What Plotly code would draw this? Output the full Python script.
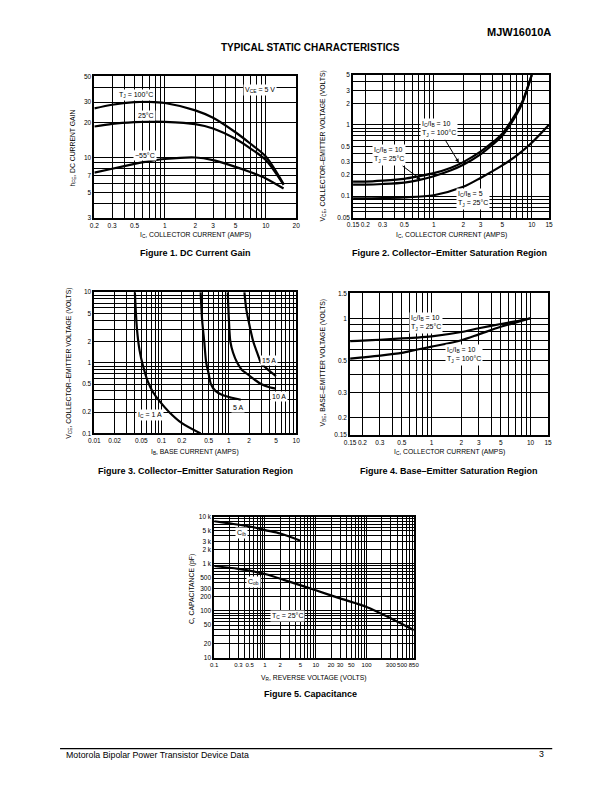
import numpy as np
import plotly.graph_objects as go

# The page body keeps its default 8 px margin, so the figure is drawn 8 px in
# from the window edge; page coordinates below are converted accordingly.
OFF = 8
W, H = 612 - 2 * OFF, 792 - 2 * OFF
FONT = "Liberation Sans, Arial, sans-serif"


def px(x):
    return (x - OFF) / W


def py(y):
    return 1 - (y - OFF) / H


# ---------------- data ----------------
# Figure 1: DC current gain
fig1_ic = [0.2, 0.3, 0.5, 0.7, 1, 2, 3, 5, 7, 10, 15]
fig1_hfe_100 = [26.5, 28.5, 30, 30.2, 29.5, 25.5, 22, 16.5, 13.2, 10.2, 5.9]
fig1_hfe_25 = [18.5, 19.5, 20.2, 20.4, 20.3, 19.4, 17.8, 14.5, 12, 9.5, 5.8]
fig1_hfe_m55 = [7.4, 8.0, 8.8, 9.3, 9.7, 10.0, 9.5, 8.3, 7.5, 6.6, 5.4]

# Figure 2: collector-emitter saturation vs IC
fig2_ic = [0.15, 0.2, 0.3, 0.5, 0.7, 1, 1.5, 2, 3, 4, 5, 7, 8, 10]
fig2_vce_10_100 = [0.16, 0.16, 0.165, 0.175, 0.19, 0.21, 0.25, 0.3, 0.42, 0.57, 0.75, 1.5, 2.1, 5.0]
fig2_vce_10_25 = [0.145, 0.145, 0.148, 0.155, 0.168, 0.19, 0.23, 0.275, 0.385, 0.53, 0.7, 1.4, 2.0, 5.0]
fig2_ic_b5 = [0.15, 0.3, 0.5, 1, 2, 3, 5, 7, 10, 15]
fig2_vce_5_25 = [0.093, 0.094, 0.096, 0.103, 0.135, 0.18, 0.27, 0.37, 0.56, 1.0]

# Figure 3: collector-emitter saturation vs IB
fig3_ib_1a = [0.04, 0.043, 0.047, 0.053, 0.062, 0.075, 0.095, 0.13, 0.2, 0.38]
fig3_vce_1a = [10, 3, 1.5, 0.9, 0.55, 0.38, 0.28, 0.2, 0.14, 0.1]
fig3_ib_5a = [0.38, 0.4, 0.43, 0.46, 0.5, 0.54, 0.63, 0.8, 1.1, 1.5]
fig3_vce_5a = [10, 4, 2, 1, 0.7, 0.5, 0.4, 0.35, 0.32, 0.3]
fig3_ib_10a = [0.96, 1.0, 1.05, 1.15, 1.33, 1.55, 1.85, 2.4, 3.0, 4.0, 5.0]
fig3_vce_10a = [10, 4, 2, 1.4, 1, 0.8, 0.7, 0.58, 0.5, 0.45, 0.43]
fig3_ib_15a = [1.7, 1.8, 1.95, 2.3, 2.7, 3.0, 3.8, 5.0]
fig3_vce_15a = [10, 6, 4, 2, 1.3, 1.0, 0.8, 0.65]

# Figure 4: base-emitter saturation
fig4_ic = [0.15, 0.2, 0.3, 0.5, 0.7, 1, 2, 3, 5, 7, 10]
fig4_vbe_25 = [0.69, 0.695, 0.705, 0.72, 0.73, 0.745, 0.8, 0.85, 0.91, 0.95, 1.0]
fig4_vbe_100 = [0.52, 0.53, 0.545, 0.57, 0.6, 0.63, 0.7, 0.77, 0.87, 0.93, 1.0]

# Figure 5: capacitance
fig5_vr_cib = [0.1, 0.2, 0.5, 1, 2, 5]
fig5_cib = [8000, 7200, 6200, 5200, 4400, 3100]
fig5_vr_cob = [0.1, 0.3, 1, 3, 10, 30, 100, 300, 850]
fig5_cob = [900, 780, 610, 420, 275, 185, 122, 70, 39]

# tick labels
fig1_xlabels = [0.2, 0.3, 0.5, 1, 2, 3, 5, 10, 20]
fig1_ylabels = [3, 5, 7, 10, 20, 30, 50]
fig2_xlabels = [0.15, 0.2, 0.3, 0.5, 1, 2, 3, 5, 10, 15]
fig2_ylabels = [0.05, 0.1, 0.2, 0.3, 0.5, 1, 2, 3, 5]
fig3_xlabels = [0.01, 0.02, 0.05, 0.1, 0.2, 0.5, 1, 2, 5, 10]
fig3_ylabels = [0.1, 0.2, 0.5, 1, 2, 5, 10]
fig4_xlabels = [0.15, 0.2, 0.3, 0.5, 1, 2, 3, 5, 10, 15]
fig4_ylabels = [0.15, 0.2, 0.3, 0.5, 1, 1.5]
fig5_xlabels = [0.1, 0.3, 0.5, 1, 2, 5, 10, 20, 30, 50, 100, 300, 500, 850]
fig5_xtexts = ["0.1", "0.3", "0.5", "1", "2", "5", "10", "20", "30", "50", "100", "300", "500", "850"]
fig5_ylabels = [10, 20, 50, 100, 200, 300, 500, 1000, 2000, 3000, 5000, 10000]
fig5_ytexts = ["10", "20", "50", "100", "200", "300", "500", "1 k", "2 k", "3 k", "5 k", "10 k"]


# ---------------- helpers ----------------
def grid_vals(lo, hi):
    vals = []
    d = int(np.floor(np.log10(lo) + 1e-9))
    while 10 ** d <= hi * 1.0001:
        for m in range(1, 10):
            v = float(f"{m * 10 ** d:.10g}")
            if lo * 0.9999 <= v <= hi * 1.0001:
                vals.append(v)
        d += 1
    return vals


def log_axis(lo, hi, labels, texts, domain, anchor, fsize=6.5):
    if texts is None:
        texts = [f"{v:g}" for v in labels]
    minor_vals = [v for v in grid_vals(lo, hi)
                  if not any(abs(v - lv) / lv < 1e-6 for lv in labels)]
    grid = dict(showgrid=True, gridcolor="black", gridwidth=1.3)
    return dict(
        type="log", range=[np.log10(lo), np.log10(hi)], domain=domain, anchor=anchor,
        tickmode="array", tickvals=labels, ticktext=texts, ticks="", tickangle=0,
        minor=dict(tickmode="array", tickvals=minor_vals, ticks="", **grid),
        showline=True, mirror=True, linecolor="black", linewidth=1.6,
        zeroline=False, tickfont=dict(family=FONT, size=fsize, color="black"),
        fixedrange=True, **grid,
    )


# plot areas (page pixels): x0, x1, y_top, y_bottom
boxes = {
    1: (90, 296, 73, 216),
    2: (354, 554, 71.5, 215.5),
    3: (90, 296, 290.7, 433.3),
    4: (351, 553, 291.8, 435),
    5: (212.3, 416, 517.3, 660),
}

axis_specs = {
    1: ((0.2, 20, fig1_xlabels, None), (3, 50, fig1_ylabels, None)),
    2: ((0.15, 15, fig2_xlabels, None), (0.05, 5, fig2_ylabels, None)),
    3: ((0.01, 10, fig3_xlabels, None), (0.1, 10, fig3_ylabels, None)),
    4: ((0.15, 15, fig4_xlabels, None), (0.15, 1.5, fig4_ylabels, None)),
    5: ((0.1, 850, fig5_xlabels, fig5_xtexts), (10, 10000, fig5_ylabels, fig5_ytexts)),
}

layout = dict(
    width=W, height=H, margin=dict(l=0, r=0, t=0, b=0),
    paper_bgcolor="white", plot_bgcolor="white", showlegend=False,
    font=dict(family=FONT, color="black"),
)

for i, (x0, x1, yt, yb) in boxes.items():
    xs, ys = axis_specs[i]
    suf = "" if i == 1 else str(i)
    layout["xaxis" + suf] = log_axis(xs[0], xs[1], xs[2], xs[3], [px(x0), px(x1)], "y" + suf,
                                     fsize=6 if i == 5 else 6.5)
    layout["yaxis" + suf] = log_axis(ys[0], ys[1], ys[2], ys[3], [py(yb), py(yt)], "x" + suf)

fig = go.Figure()


def curve(x, y, i):
    suf = "" if i == 1 else str(i)
    fig.add_trace(go.Scatter(
        x=x, y=y, mode="lines", xaxis="x" + suf, yaxis="y" + suf,
        line=dict(color="black", width=2.2, shape="spline", smoothing=0.8),
        hoverinfo="skip", showlegend=False,
    ))


curve(fig1_ic, fig1_hfe_100, 1)
curve(fig1_ic, fig1_hfe_25, 1)
curve(fig1_ic, fig1_hfe_m55, 1)
curve(fig2_ic, fig2_vce_10_100, 2)
curve(fig2_ic, fig2_vce_10_25, 2)
curve(fig2_ic_b5, fig2_vce_5_25, 2)
curve(fig3_ib_1a, fig3_vce_1a, 3)
curve(fig3_ib_5a, fig3_vce_5a, 3)
curve(fig3_ib_10a, fig3_vce_10a, 3)
curve(fig3_ib_15a, fig3_vce_15a, 3)
curve(fig4_ic, fig4_vbe_25, 4)
curve(fig4_ic, fig4_vbe_100, 4)
curve(fig5_vr_cib, fig5_cib, 5)
curve(fig5_vr_cob, fig5_cob, 5)

ann = []


def text(x, y, s, size=7, bold=False, bg=None, angle=0, xanchor="center", align="center"):
    if bold:
        s = f"<b>{s}</b>"
    d = dict(x=px(x), y=py(y), xref="paper", yref="paper", text=s, showarrow=False,
             font=dict(family=FONT, size=size, color="black"), textangle=angle,
             xanchor=xanchor, yanchor="middle", align=align)
    if bg:
        d.update(bgcolor=bg, borderpad=1)
    ann.append(d)


def arrow_label(x, y, s, tipx, tipy):
    ann.append(dict(x=px(tipx), y=py(tipy), xref="paper", yref="paper", text=s,
                    showarrow=True, ax=x - tipx, ay=y - tipy, arrowhead=2, arrowsize=0.8,
                    arrowwidth=1, arrowcolor="black", bgcolor="white", borderpad=1,
                    align="left", font=dict(family=FONT, size=7, color="black")))


# header / footer
text(558, 28, "MJW16010A", size=11, bold=True, xanchor="right")
text(311, 44, "TYPICAL STATIC CHARACTERISTICS", size=10, bold=True)
text(59, 758, "Motorola Bipolar Power Transistor Device Data", size=8.8, xanchor="left")
text(546, 757, "3", size=8.8)

# captions
text(193, 251, "Figure 1. DC Current Gain", size=9, bold=True)
text(452, 251, "Figure 2. Collector–Emitter Saturation Region", size=9, bold=True)
text(193, 471, "Figure 3. Collector–Emitter Saturation Region", size=9, bold=True)
text(452, 471, "Figure 4. Base–Emitter Saturation Region", size=9, bold=True)
text(311, 696, "Figure 5. Capacitance", size=9, bold=True)

# axis titles
text(193, 233, "I<sub>C</sub>, COLLECTOR CURRENT (AMPS)", size=6.8)
text(68, 145, "h<sub>FE</sub>, DC CURRENT GAIN", size=6.8, angle=-90)
text(454, 233, "I<sub>C</sub>, COLLECTOR CURRENT (AMPS)", size=6.8)
text(323, 143, "V<sub>CE</sub>, COLLECTOR–EMITTER VOLTAGE (VOLTS)", size=6.8, angle=-90)
text(193, 452, "I<sub>B</sub>, BASE CURRENT (AMPS)", size=6.8)
text(64, 362, "V<sub>CE</sub>, COLLECTOR–EMITTER VOLTAGE (VOLTS)", size=6.8, angle=-90)
text(452, 452, "I<sub>C</sub>, COLLECTOR CURRENT (AMPS)", size=6.8)
text(323, 362, "V<sub>BE</sub>, BASE–EMITTER VOLTAGE (VOLTS)", size=6.8, angle=-90)
text(314, 680, "V<sub>R</sub>, REVERSE VOLTAGE (VOLTS)", size=6.8)
text(189, 590, "C, CAPACITANCE (pF)", size=6.8, angle=-90)

# in-plot labels
text(133, 92, "T<sub>J</sub> = 100°C", bg="white")
text(143, 112, "25°C", bg="white")
text(142, 153, "−55°C", bg="white")
text(259, 87, "V<sub>CE</sub> = 5 V", bg="white")

arrow_label(442, 126.7, "I<sub>C</sub>/I<sub>B</sub> = 10<br>T<sub>J</sub> = 100°C", 462, 160)
arrow_label(391, 153, "I<sub>C</sub>/I<sub>B</sub> = 10<br>T<sub>J</sub> = 25°C", 423, 177)
text(476, 197, "I<sub>C</sub>/I<sub>B</sub> = 5<br>T<sub>J</sub> = 25°C", bg="white", align="left")

text(147, 415, "I<sub>C</sub> = 1 A", bg="white")
text(237, 407, "5 A", bg="white")
text(278, 396, "10 A", bg="white")
text(268, 360, "15 A", bg="white")

text(428.5, 322.3, "I<sub>C</sub>/I<sub>B</sub> = 10<br>T<sub>J</sub> = 25°C", bg="white", align="left")
text(467.4, 354.5, "I<sub>C</sub>/I<sub>B</sub> = 10<br>T<sub>J</sub> = 100°C", bg="white", align="left")

text(240, 534, "C<sub>ib</sub>", bg="white")
text(252, 583, "C<sub>ob</sub>", bg="white")
text(287, 617, "T<sub>C</sub> = 25°C", bg="white")

layout["annotations"] = ann
layout["shapes"] = [dict(type="line", xref="paper", yref="paper", x0=px(55), x1=px(557.3),
                         y0=py(751.3), y1=py(751.3), line=dict(color="black", width=1.2))]
fig.update_layout(**layout)
fig.write_html("out.html")
